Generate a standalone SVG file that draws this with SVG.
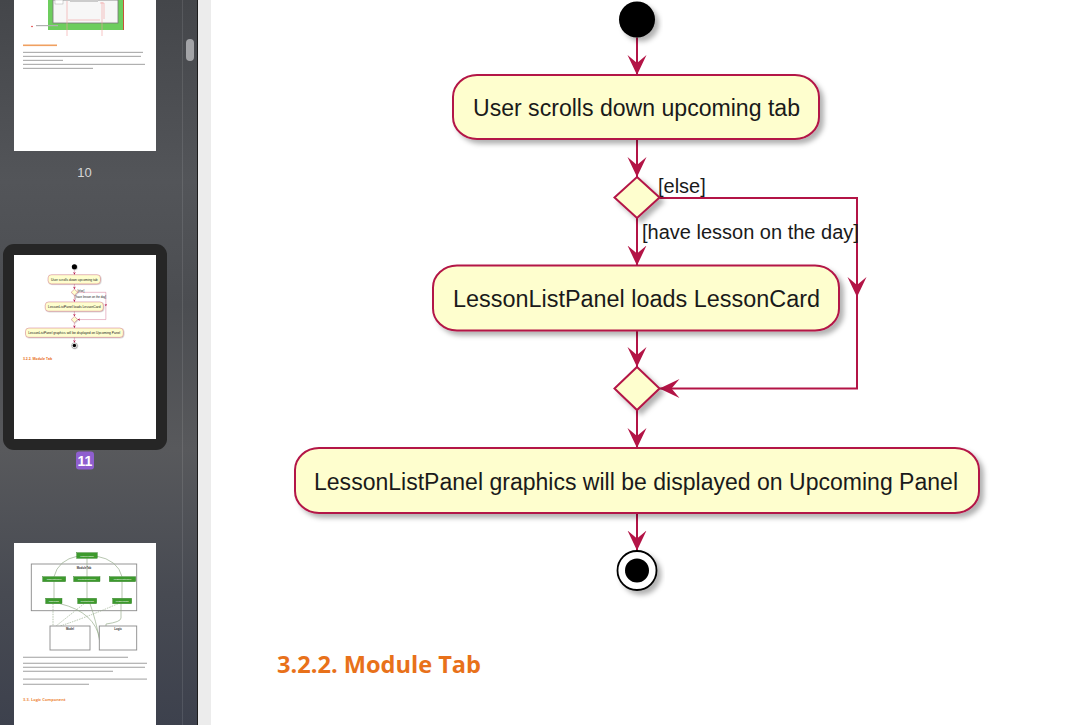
<svg xmlns="http://www.w3.org/2000/svg" xmlns:xlink="http://www.w3.org/1999/xlink" width="1080" height="725" viewBox="0 0 1080 725">
<defs>
<style>
.act{fill:#FEFECE;stroke:#B31446;stroke-width:2;filter:url(#sh)}
.lbl{font-family:"Liberation Sans",Arial,sans-serif;font-size:23px;fill:#1a1a1a}
.guard{font-family:"Liberation Sans",Arial,sans-serif;font-size:20px;fill:#1a1a1a}
.edge{fill:none;stroke:#B31446;stroke-width:2}
.para{fill:#b0b0b0}
.gbox{fill:#3d9a2d;stroke:#2b7a1f;stroke-width:0.4}
.gtxt{font-family:"Liberation Sans",Arial,sans-serif;font-size:2.4px;fill:#fff;text-anchor:middle}
.gl{fill:none;stroke:#98ad8e;stroke-width:0.7}
.gd{fill:none;stroke:#98ad8e;stroke-width:0.7;stroke-dasharray:1.5 1}
.pg{fill:#fff}
</style>
<filter id="sh" x="-10%" y="-20%" width="130%" height="160%">
<feDropShadow dx="4" dy="4" stdDeviation="2.5" flood-color="#000" flood-opacity="0.3"/>
</filter>
<linearGradient id="side" x1="0" y1="0" x2="0" y2="1">
<stop offset="0" stop-color="#44464a"/>
<stop offset="0.25" stop-color="#535559"/>
<stop offset="0.42" stop-color="#4b4d51"/>
<stop offset="0.62" stop-color="#58595c"/>
<stop offset="0.82" stop-color="#474a52"/>
<stop offset="1" stop-color="#3d414d"/>
</linearGradient>
<marker id="ah" viewBox="0 0 20 20" markerWidth="20" markerHeight="20" refX="20" refY="10" orient="auto" markerUnits="userSpaceOnUse">
<path d="M0,0.5 L20,10 L0,19.5 L8,10 Z" fill="#B31446"/>
</marker>
<clipPath id="clip11"><rect x="14" y="255" width="142" height="184"/></clipPath>
</defs>

<!-- sidebar -->
<rect x="0" y="0" width="198" height="725" fill="url(#side)"/>
<line x1="182.5" y1="0" x2="182.5" y2="725" stroke="#ffffff" stroke-opacity="0.1"/>
<rect x="197" y="0" width="1" height="725" fill="#1c1c1c"/>
<rect x="186" y="39" width="8" height="22" rx="4" fill="#a3a4a7"/>
<rect x="198" y="0" width="13" height="725" fill="#ececec"/>
<rect x="211" y="0" width="869" height="725" fill="#ffffff"/>

<!-- thumbnail page 10 -->
<g id="thumb10">
<rect class="pg" x="14" y="0" width="142" height="151"/>
<rect x="48" y="0" width="76" height="30" fill="#6dcd5e"/>
<line x1="123.5" y1="0" x2="123.5" y2="30" stroke="#e03030" stroke-width="0.8"/>
<rect x="53" y="0" width="65" height="23" fill="#f7f7f7" stroke="#777" stroke-width="0.8"/>
<rect x="55" y="0" width="8" height="4" fill="#fff" stroke="#999" stroke-width="0.4"/>
<rect x="70" y="0" width="28" height="2" fill="#ccc"/>
<path d="M67,1 V36 M102,2 V36 M68,20 H100 M100,3 H104 V19" fill="none" stroke="#f2a0a0" stroke-width="0.6"/>
<circle cx="32" cy="26.5" r="0.8" fill="#e03030"/>
<rect x="36" y="25" width="22" height="1.2" fill="#b0b0b0"/>
<rect x="23" y="44.5" width="34" height="1.6" fill="#f0a060"/>
<rect class="para" x="23" y="51.8" width="120" height="1.2"/>
<rect class="para" x="23" y="55.8" width="118" height="1.2"/>
<rect class="para" x="23" y="59.8" width="40" height="1.2"/>
<rect class="para" x="23" y="63.8" width="122" height="1.2"/>
<rect class="para" x="23" y="67.8" width="70" height="1.2"/>
<text x="84.5" y="177" font-family="'Liberation Sans',Arial,sans-serif" font-size="13" fill="#d6d6d6" text-anchor="middle">10</text>
</g>

<!-- thumbnail page 11 (selected) -->
<g id="thumb11">
<rect x="3" y="244" width="164" height="206" rx="11" fill="#262626"/>
<rect class="pg" x="14" y="255" width="142" height="184"/>
<g clip-path="url(#clip11)">
<use xlink:href="#page11" href="#page11" transform="translate(-16.7,264) scale(0.143)"/>
</g>
<rect x="76" y="451.5" width="18" height="18" rx="3" fill="#8f5fcf"/>
<text x="85" y="466" font-family="'Liberation Sans',Arial,sans-serif" font-size="14" font-weight="700" fill="#ffffff" text-anchor="middle">11</text>
</g>

<!-- thumbnail page 12 -->
<g id="thumb12">
<rect class="pg" x="14" y="543" width="142" height="182"/>
<rect x="31.3" y="564" width="105.4" height="46.7" fill="none" stroke="#8a8a8a" stroke-width="0.9"/>
<text x="84" y="568.6" font-family="'Liberation Sans',Arial,sans-serif" font-size="2.8" font-weight="700" fill="#333" text-anchor="middle">ModuleTab</text>
<path class="gl" d="M78,556 Q58,560 54,576.7 M87,558.3 V576.7 M96,556 Q118,560 122,576.7 M54,581.7 V598.3 M87,581.7 V598.3 M122,581.7 V598.3 M60,603.7 Q95,612 100,640 M90,603.7 Q96,620 100,643 M121,603.7 V618 Q121,622 106,624 V626"/>
<path class="gd" d="M53,603.7 V626 M84,603.7 Q70,615 56,626 M118,603.7 Q85,618 60,626"/>
<rect class="gbox" x="76.7" y="552.7" width="20.6" height="5.6"/>
<text class="gtxt" x="87" y="556.5">MainWindow</text>
<rect class="gbox" x="42.7" y="576.7" width="23" height="5"/>
<text class="gtxt" x="54.2" y="580.2">TaskListPanel</text>
<rect class="gbox" x="73.7" y="576.7" width="26.3" height="5"/>
<text class="gtxt" x="86.8" y="580.2">ContactListPanel</text>
<rect class="gbox" x="109.3" y="576.7" width="26.4" height="5"/>
<text class="gtxt" x="122.5" y="580.2">LessonListPanel</text>
<rect class="gbox" x="45.7" y="598.3" width="16.3" height="5.4"/>
<text class="gtxt" x="53.8" y="601.9">TaskCard</text>
<rect class="gbox" x="77.7" y="598.3" width="19" height="5.4"/>
<text class="gtxt" x="87.2" y="601.9">ContactCard</text>
<rect class="gbox" x="112.7" y="598.3" width="19" height="5.4"/>
<text class="gtxt" x="122.2" y="601.9">LessonCard</text>
<rect x="50" y="626" width="40" height="24" fill="#fff" stroke="#8a8a8a" stroke-width="0.9"/>
<text x="70" y="630" font-family="'Liberation Sans',Arial,sans-serif" font-size="2.8" font-weight="700" fill="#333" text-anchor="middle">Model</text>
<rect x="99.3" y="626" width="37.4" height="24" fill="#fff" stroke="#8a8a8a" stroke-width="0.9"/>
<text x="118" y="630" font-family="'Liberation Sans',Arial,sans-serif" font-size="2.8" font-weight="700" fill="#333" text-anchor="middle">Logic</text>
<rect class="para" x="23" y="656.7" width="105" height="1.2"/>
<rect class="para" x="23" y="662.7" width="124" height="1.2"/>
<rect class="para" x="23" y="666.7" width="122" height="1.2"/>
<rect class="para" x="23" y="670.7" width="90" height="1.2"/>
<rect class="para" x="23" y="678.5" width="124" height="1.2"/>
<rect class="para" x="23" y="683.7" width="66" height="1.2"/>
<text x="23" y="700.5" font-family="'Open Sans','Liberation Sans',sans-serif" font-size="4" font-weight="700" fill="#ee8a40">3.3. Logic Component</text>
</g>

<!-- main page content -->
<g id="page11">
<g id="connectors">
<path class="edge" d="M637,37.5 V75" marker-end="url(#ah)"/>
<path class="edge" d="M637,139 V177" marker-end="url(#ah)"/>
<path class="edge" d="M637,218 V265.5" marker-end="url(#ah)"/>
<path class="edge" d="M637,330.5 V367" marker-end="url(#ah)"/>
<path class="edge" d="M637,410 V448" marker-end="url(#ah)"/>
<path class="edge" d="M637,513 V550.5" marker-end="url(#ah)"/>
<path class="edge" d="M659.5,198 H857 V297" marker-end="url(#ah)"/>
<path class="edge" d="M857,296 V388.5 H659.5" marker-end="url(#ah)"/>
<text class="guard" x="658" y="193">[else]</text>
<text class="guard" x="642" y="239">[have lesson on the day]</text>
</g>
<g id="start"><circle cx="637" cy="19.5" r="18" fill="#000" filter="url(#sh)"/></g>
<g id="scroll">
<rect class="act" x="453" y="75" width="366" height="64" rx="24" ry="22"/>
<text class="lbl" x="636.5" y="116" text-anchor="middle" textLength="327" lengthAdjust="spacingAndGlyphs">User scrolls down upcoming tab</text>
</g>
<g id="decision"><polygon class="act" points="637,177 659.5,197.5 637,218 614.5,197.5"/></g>
<g id="loads">
<rect class="act" x="433" y="265.5" width="406" height="65" rx="24" ry="22"/>
<text class="lbl" x="636.5" y="307" text-anchor="middle" textLength="367" lengthAdjust="spacingAndGlyphs">LessonListPanel loads LessonCard</text>
</g>
<g id="merge"><polygon class="act" points="637,367 659.5,388.5 637,410 614.5,388.5"/></g>
<g id="display">
<rect class="act" x="295" y="448" width="684" height="65" rx="24" ry="22"/>
<text class="lbl" x="636" y="490" text-anchor="middle" textLength="644" lengthAdjust="spacingAndGlyphs">LessonListPanel graphics will be displayed on Upcoming Panel</text>
</g>
<g id="end">
<circle cx="637" cy="570.5" r="19.5" fill="#fff" stroke="#000" stroke-width="1.8" filter="url(#sh)"/>
<circle cx="637" cy="570.5" r="12" fill="#000"/>
</g>
<text id="heading" x="277" y="672.5" font-family="'Open Sans','Noto Sans',sans-serif" font-size="24" font-weight="700" fill="#e8711a" textLength="204" lengthAdjust="spacingAndGlyphs">3.2.2. Module Tab</text>
</g>
</svg>
